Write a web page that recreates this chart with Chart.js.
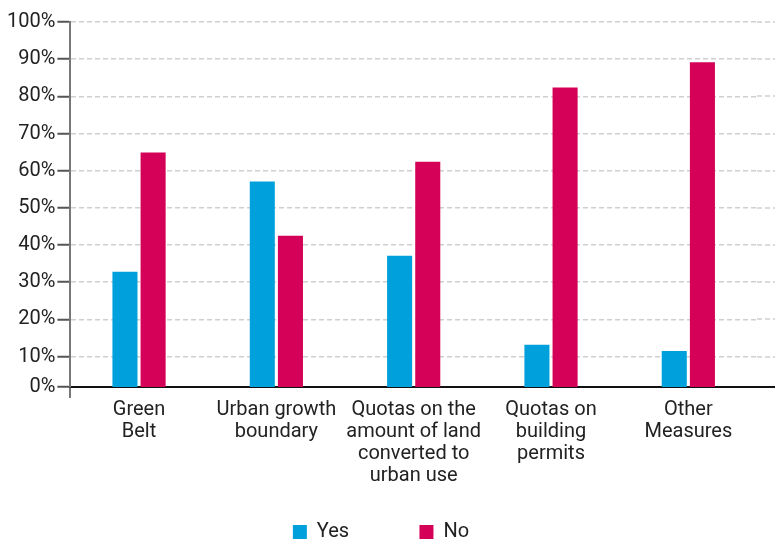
<!DOCTYPE html>
<html>
<head>
<meta charset="utf-8">
<script src="https://cdn.jsdelivr.net/npm/chart.js@4"></script>
<style>
  html, body { margin: 0; padding: 0; background: #fff; }
  #wrap { width: 775px; height: 542px; }
</style>
</head>
<body>
<div id="wrap"><canvas id="chart"></canvas></div>
<script>
const categories = [
  ['Green', 'Belt'],
  ['Urban growth', 'boundary'],
  ['Quotas on the', 'amount of land', 'converted to', 'urban use'],
  ['Quotas on', 'building', 'permits'],
  ['Other', 'Measures']
];
const yesValues = [32.8, 57.1, 37.1, 13.2, 11.5];
const noValues = [64.9, 42.5, 62.4, 82.4, 89.2];
const yTicks = [0, 10, 20, 30, 40, 50, 60, 70, 80, 90, 100];

const FONT = "Roboto, 'Liberation Sans', sans-serif";
const Y_MIN = 1.8; // the source chart's 0% line sits a little above a true zero

// carry grid lines and x axis on to the right edge of the picture
const extendGrid = {
  id: 'extendGrid',
  beforeDatasetsDraw(chart) {
    const { ctx, chartArea, scales } = chart;
    ctx.save();
    ctx.strokeStyle = '#cfcfcf';
    ctx.lineWidth = 1.5;
    ctx.setLineDash([5, 3]);
    scales.y.ticks.forEach(t => {
      const y = Math.round(scales.y.getPixelForValue(t.value));
      ctx.beginPath();
      ctx.moveTo(chartArea.right, y);
      ctx.lineTo(chart.width, y);
      ctx.stroke();
    });
    ctx.restore();
  },
  afterDraw(chart) {
    const { ctx, chartArea } = chart;
    ctx.save();
    ctx.strokeStyle = '#111';
    ctx.lineWidth = 2;
    ctx.beginPath();
    ctx.moveTo(chartArea.right - 1, chartArea.bottom);
    ctx.lineTo(chart.width, chartArea.bottom);
    ctx.stroke();
    ctx.restore();
  }
};

// legend sits close to the bottom edge
const legendLower = {
  id: 'legendLower',
  afterInit(chart) {
    const lg = chart.legend;
    const fit = lg.fit;
    lg.fit = function () { fit.call(this); this.height -= 10; };
  }
};

new Chart(document.getElementById('chart'), {
  type: 'bar',
  data: {
    labels: categories,
    datasets: [
      { label: 'Yes', data: yesValues, backgroundColor: '#00A0DC' },
      { label: 'No', data: noValues, backgroundColor: '#D50057' }
    ]
  },
  options: {
    responsive: true,
    maintainAspectRatio: false,
    animation: false,
    categoryPercentage: 0.41,
    barPercentage: 0.89,
    layout: { padding: { left: 5, right: 18, top: 22, bottom: 0 } },
    scales: {
      x: {
        afterFit: scale => { scale.height = 130; },
        grid: {
          drawOnChartArea: false,
          tickLength: 11,
          lineWidth: 2,
          color: ctx => ctx.index === 0 ? '#777' : 'rgba(0,0,0,0)'
        },
        border: { color: '#111', width: 2 },
        ticks: {
          color: '#222',
          padding: 1,
          maxRotation: 0,
          autoSkip: false,
          font: { family: FONT, size: 20, lineHeight: 1.1 }
        }
      },
      y: {
        min: Y_MIN,
        max: 100,
        afterBuildTicks: scale => {
          scale.ticks = yTicks.map(v => ({ value: v === 0 ? Y_MIN : v }));
        },
        grid: {
          color: '#cfcfcf',
          lineWidth: 1.5,
          tickLength: 13,
          tickColor: '#555',
          tickWidth: 2
        },
        border: { color: '#777', width: 2, dash: [5, 3] },
        ticks: {
          color: '#222',
          padding: 2,
          font: { family: FONT, size: 20 },
          callback: v => (v < 5 ? 0 : Math.round(v)) + '%'
        }
      }
    },
    plugins: {
      legend: {
        position: 'bottom',
        labels: {
          color: '#222',
          boxWidth: 14,
          boxHeight: 14,
          padding: 5,
          font: { family: FONT, size: 20 },
          generateLabels: chart => {
            const items = Chart.defaults.plugins.legend.labels.generateLabels(chart);
            items[0].text += '\u2003\u2003\u2003\u2009';
            return items;
          }
        }
      },
      tooltip: { enabled: false }
    }
  },
  plugins: [extendGrid, legendLower]
});
</script>
</body>
</html>
